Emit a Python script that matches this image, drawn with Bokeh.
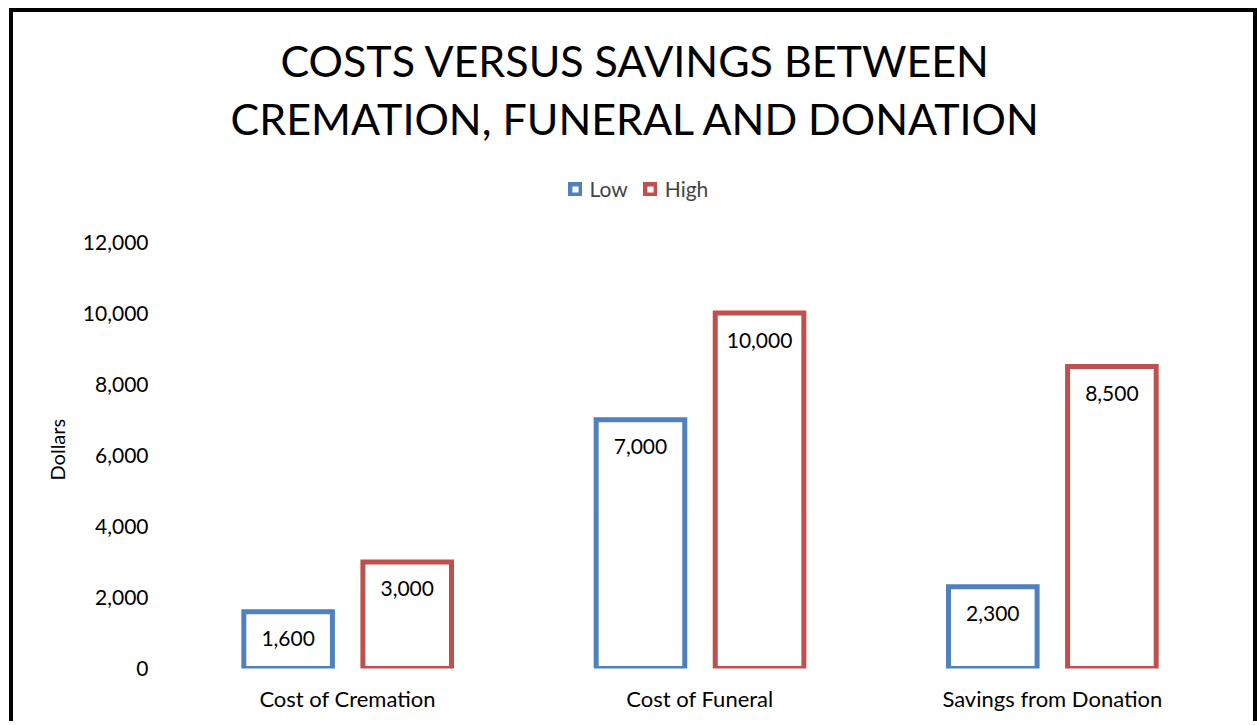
from bokeh.plotting import figure
from bokeh.models import (ColumnDataSource, FactorRange, Range1d, FixedTicker,
                          NumeralTickFormatter, LabelSet, Legend, LegendItem, Title)
from bokeh.transform import dodge
from bokeh.core.properties import value
from bokeh.embed import file_html
from bokeh.resources import INLINE

# ---- data ----
categories = ["Cost of Cremation", "Cost of Funeral", "Savings from Donation"]
low = [1600, 7000, 2300]
high = [3000, 10000, 8500]
series = ["Low", "High"]
colors = ["#4F81BD", "#C0504D"]
y_ticks = [0, 2000, 4000, 6000, 8000, 10000, 12000]
title_lines = ["COSTS VERSUS SAVINGS BETWEEN", "CREMATION, FUNERAL AND DONATION"]
y_label = "Dollars"

FONT = "Lato"
Y_MAX = 12000
# frame extends above the top tick to hold the legend (503 px frame, 426.5 px for 0..12000)
Y_END = Y_MAX * 503 / 426.5

src = ColumnDataSource(dict(
    cat=categories, low=low, high=high,
    low_lbl=[f"{v:,}" for v in low], high_lbl=[f"{v:,}" for v in high]))

p = figure(x_range=FactorRange(factors=categories, range_padding=0),
           y_range=Range1d(0, Y_END), title=None,
           width=1248, height=713, output_backend="svg", toolbar_location=None,
           min_border_left=158, min_border_right=33, min_border_top=153,
           min_border_bottom=57)
p.margin = (8, 0, 0, 9)
p.styles = {"border-left": "4px solid black", "border-top": "4px solid black",
            "border-right": "4px solid black", "overflow": "hidden"}
p.outline_line_color = None
p.xgrid.grid_line_color = None
p.ygrid.grid_line_color = None

# axes
for ax in (p.xaxis, p.yaxis):
    ax.axis_line_color = None
    ax.major_tick_line_color = None
    ax.major_tick_out = 0
    ax.major_tick_in = 0
    ax.minor_tick_line_color = None
    ax.major_label_text_font = FONT
    ax.major_label_text_color = "black"
p.yaxis.major_label_text_font_size = "21px"
p.xaxis.major_label_text_font_size = "22px"
p.yaxis.ticker = FixedTicker(ticks=y_ticks)
p.yaxis.formatter = NumeralTickFormatter(format="0,0")
p.yaxis.major_label_standoff = 23
p.xaxis.major_label_standoff = 16

# y-axis title, centred on the 0..12,000 span
y_title = Title(text=y_label, align="left", offset=188, standoff=22,
                text_font=FONT, text_font_size="20px", text_font_style="normal",
                text_color="black")
p.add_layout(y_title, "left")

OFF = 0.169
W = 0.2515
r_low = p.vbar(x=dodge("cat", -OFF, range=p.x_range), top="low", width=W, source=src,
               fill_color="white", line_color=colors[0], line_width=5, line_join="miter")
r_high = p.vbar(x=dodge("cat", OFF, range=p.x_range), top="high", width=W, source=src,
                fill_color="white", line_color=colors[1], line_width=5, line_join="miter")

for fld, lbl, off in (("low", "low_lbl", -OFF), ("high", "high_lbl", OFF)):
    p.add_layout(LabelSet(x=dodge("cat", off, range=p.x_range), y=fld, text=lbl,
                          y_offset=-27, text_align="center", text_baseline="middle",
                          text_font=value(FONT), text_font_size="21px",
                          text_color="black", source=src))

legend = Legend(items=[LegendItem(label=series[0], renderers=[r_low]),
                       LegendItem(label=series[1], renderers=[r_high])],
                orientation="horizontal", location=(396.5, 467),
                padding=0, margin=0, border_line_color=None,
                background_fill_alpha=0, glyph_width=14, glyph_height=14,
                label_text_font=FONT, label_text_font_size="21px",
                label_standoff=8, spacing=15)
p.add_layout(legend)

t2 = Title(text=title_lines[1], align="left", offset=59, standoff=44,
           text_font=FONT, text_font_size="43px", text_font_style="normal",
           text_color="black")
t1 = Title(text=title_lines[0], align="left", offset=109, standoff=-35,
           text_font=FONT, text_font_size="43px", text_font_style="normal",
           text_color="black")
p.add_layout(t2, "above")
p.add_layout(t1, "above")

open("out.html", "w").write(file_html(p, INLINE))
